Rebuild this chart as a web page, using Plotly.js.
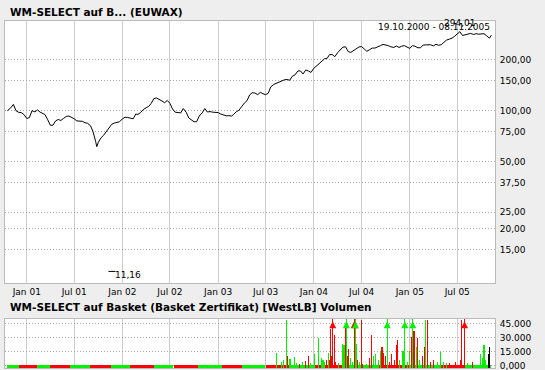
<!DOCTYPE html>
<html><head><meta charset="utf-8">
<script src="https://cdn.plot.ly/plotly-3.0.1.min.js"></script>
<style>html,body{margin:0;padding:0;background:#eeeeee;}#chart{width:545px;height:370px;}</style>
</head><body><div id="chart"></div>
<script>
// ---- price series (EUWAX close) ----
const priceDates = [
'2000-10-19','2000-11-01','2000-11-11','2000-11-21','2000-12-01','2000-12-11','2000-12-21',
'2001-01-01','2001-01-11','2001-01-21','2001-02-01','2001-02-11','2001-02-21','2001-03-01','2001-03-11','2001-03-21',
'2001-04-01','2001-04-11','2001-04-21','2001-05-01','2001-05-11','2001-05-21','2001-06-01','2001-06-11','2001-06-21',
'2001-07-01','2001-07-11','2001-07-21','2001-08-01','2001-08-11','2001-08-21','2001-09-01','2001-09-11','2001-09-21','2001-09-25',
'2001-10-01','2001-10-11','2001-10-21','2001-11-01','2001-11-11','2001-11-21','2001-12-01','2001-12-11','2001-12-21',
'2002-01-01','2002-01-11','2002-01-21','2002-02-01','2002-02-11','2002-02-21','2002-03-01','2002-03-11','2002-03-21',
'2002-04-01','2002-04-11','2002-04-21','2002-05-01','2002-05-11','2002-05-21','2002-06-01','2002-06-11','2002-06-21',
'2002-07-01','2002-07-11','2002-07-21','2002-08-01','2002-08-11','2002-08-21','2002-09-01','2002-09-11','2002-09-21',
'2002-10-01','2002-10-11','2002-10-21','2002-11-01','2002-11-11','2002-11-21','2002-12-01','2002-12-11','2002-12-21',
'2003-01-01','2003-01-11','2003-01-21','2003-02-01','2003-02-11','2003-02-21','2003-03-01','2003-03-11','2003-03-21',
'2003-04-01','2003-04-11','2003-04-21','2003-05-01','2003-05-11','2003-05-21','2003-06-01','2003-06-11','2003-06-21',
'2003-07-01','2003-07-11','2003-07-21','2003-08-01','2003-08-11','2003-08-21','2003-09-01','2003-09-11','2003-09-21',
'2003-10-01','2003-10-11','2003-10-21','2003-11-01','2003-11-11','2003-11-21','2003-12-01','2003-12-11','2003-12-21',
'2004-01-01','2004-01-11','2004-01-21','2004-02-01','2004-02-11','2004-02-21','2004-03-01','2004-03-11','2004-03-21',
'2004-04-01','2004-04-11','2004-04-21','2004-05-01','2004-05-11','2004-05-21','2004-06-01','2004-06-11','2004-06-21',
'2004-07-01','2004-07-11','2004-07-21','2004-08-01','2004-08-11','2004-08-21','2004-09-01','2004-09-11','2004-09-21',
'2004-10-01','2004-10-11','2004-10-21','2004-11-01','2004-11-11','2004-11-21','2004-12-01','2004-12-11','2004-12-21',
'2005-01-01','2005-01-11','2005-01-21','2005-02-01','2005-02-11','2005-02-21','2005-03-01','2005-03-11','2005-03-21',
'2005-04-01','2005-04-11','2005-04-21','2005-05-01','2005-05-11','2005-05-21','2005-06-01','2005-06-11','2005-06-21',
'2005-07-01','2005-07-11','2005-07-21','2005-08-01','2005-08-11','2005-08-21','2005-09-01','2005-09-11','2005-09-21',
'2005-10-01','2005-10-11','2005-10-21','2005-11-01','2005-11-08'];
const priceValues = [
100,104,109,100,97.8,97.5,95,
90,91,100,98.5,101,98,97,95,89,
82,82,87,88.7,87.5,90,92.5,93,91.4,
89.5,87,86.5,86.5,84.9,84.2,81.5,75,65.5,61.2,
65,69,71.5,75,79.5,83,84.5,85,86,
89.5,91.4,91.2,90.5,89.5,95.6,95,97.5,101.5,
104,106,110.6,118,119,117,114,111.5,115,
110.5,102.5,98,97.5,97,103,98,90.5,88,
86,86,93,97,103,98.2,98.8,98,97.6,
97.5,95.5,94,93.3,93.4,93,95,98.5,100.5,
106,111,114.6,124,127.8,127.3,124.5,128.5,126,
124.5,127,138.5,143,145.3,147,150,152.5,153,
151.5,160,163,172,172,165,174.3,172,168.5,
178.4,184,190,198,203,204.5,215,215,209,
221,230,238,239,224,221.5,228,234,238.5,
240,233,225,230,235,235,238,243,247,
245.5,243,239,237,241.6,237,241,243,238.5,
234,243,241,236,236,245,245,246,246,
242,247.5,244,246,254,262,265.5,269,276,
285,294.01,279,282,284,287,283,286,284,
285,286,278,269,280];
const maxDate = '2005-07-11', maxValue = 294.01, maxLabel = '294,01';
const minDate = '2001-11-22', minValue = 11.16, minLabel = '11,16';
const rangeText = '19.10.2000 - 08.11.2005';

// ---- volume (large individual days) ----
const volDates = ['2003-08-13','2003-09-01','2003-09-09','2003-09-19','2003-09-23','2003-10-02','2003-10-19','2003-10-28','2003-11-07','2003-11-17',
'2003-12-01','2003-12-10','2003-12-18','2004-01-03','2004-01-20','2004-01-29','2004-02-05','2004-02-12','2004-02-18','2004-02-25',
'2004-02-29','2004-03-05','2004-03-09','2004-03-13','2004-03-18','2004-03-22','2004-04-05','2004-04-18','2004-04-25','2004-04-29',
'2004-05-04','2004-05-08','2004-05-14','2004-05-21','2004-05-28','2004-06-03','2004-06-08','2004-06-13','2004-06-16','2004-06-23',
'2004-06-30','2004-07-06','2004-07-20','2004-08-02','2004-08-08','2004-08-15','2004-08-22','2004-09-02','2004-09-11','2004-09-17',
'2004-09-24','2004-10-01','2004-10-07','2004-10-14','2004-10-25','2004-11-03','2004-11-10','2004-11-16','2004-11-23','2004-12-06',
'2004-12-13','2004-12-22','2004-12-30','2005-01-06','2005-01-12','2005-01-17','2005-01-25','2005-02-01','2005-02-08','2005-02-17',
'2005-02-26','2005-03-02','2005-03-11','2005-03-22','2005-04-02','2005-04-15','2005-04-28','2005-05-08','2005-05-21','2005-06-03',
'2005-06-23','2005-07-13','2005-07-19','2005-07-29','2005-08-08','2005-08-28','2005-09-28','2005-10-04','2005-10-11','2005-10-17',
'2005-10-27','2005-11-02'];
const volValues = [14200,4600,6500,49500,11000,7300,9600,2700,1900,4600,
5000,11000,2700,12300,30400,8500,6500,4600,5800,14200,
6500,39200,10400,60000,33500,4600,2700,23800,21900,44200,
60000,10400,18000,8500,4600,60000,60000,23800,6500,4600,
49500,1500,1900,8500,33500,10400,12300,6500,16000,20000,
14200,10400,60000,4600,12300,6500,22700,27700,6500,16000,
60000,4600,16000,31500,60000,37300,20000,29600,6500,10400,
20000,49500,49500,4600,6500,4600,15000,4600,2700,2700,
4600,6500,49500,60000,2700,4600,12300,8500,22700,6500,
12300,20000];
const volUp = 'ggggrgggrgrrggggggrgrrrrrrgggrgrrggrggrgrrgrrggggrrrgrrrrrgggggrgrgrgrrgrrrggggrrrrrgrgggg';
// baseline strip of small daily volumes: segment start, end, direction
const stripStart = ['2000-10-19','2000-12-01','2001-02-10','2001-04-01','2001-06-15','2001-09-01','2001-11-20','2002-02-01','2002-05-01','2002-07-15','2002-10-15','2003-01-15','2003-04-01','2003-07-01','2003-10-01','2004-01-01','2004-05-01','2004-09-01','2005-01-01','2005-05-01','2005-08-01'];
const stripEnd   = ['2000-12-01','2001-02-10','2001-04-01','2001-06-15','2001-09-01','2001-11-20','2002-02-01','2002-05-01','2002-07-15','2002-10-15','2003-01-15','2003-04-01','2003-07-01','2003-10-01','2004-01-01','2004-05-01','2004-09-01','2005-01-01','2005-05-01','2005-08-01','2005-11-08'];
const stripUp    = 'grgrgrgrgrgrgrgrgrgrg';
const stripValue = 600;

const xTickVals = ['2001-01-01','2001-07-01','2002-01-01','2002-07-01','2003-01-01','2003-07-01','2004-01-01','2004-07-01','2005-01-01','2005-07-01'];
const xTickText = ['Jan 01','Jul 01','Jan 02','Jul 02','Jan 03','Jul 03','Jan 04','Jul 04','Jan 05','Jul 05'];
const yTickVals = [15,20,25,37.5,50,75,100,150,200];
const vTickVals = [0,15000,30000,45000];
const vTickText = ['0,000','15.000','30.000','45.000'];

const RED = '#ff0000', GREEN = '#00f000';
const DAY = 86400000;
const vColors = volUp.split('').map(c => c === 'g' ? GREEN : RED);
const sMid = stripStart.map((s,i) => new Date((Date.parse(s)+Date.parse(stripEnd[i]))/2).toISOString().slice(0,10));
const sW = stripStart.map((s,i) => Date.parse(stripEnd[i]) - Date.parse(s));
const VBASE = -2300;
const vTopCap = 49800;
const offDates = volDates.filter((d,i) => volValues[i] > vTopCap);
const offCols = vColors.filter((c,i) => volValues[i] > vTopCap);

const FONT = 'DejaVu Sans, Verdana, sans-serif';
const traces = [
  {x: priceDates, y: priceValues, type: 'scatter', mode: 'lines', line: {color: '#000', width: 1}, xaxis: 'x', yaxis: 'y', hoverinfo: 'skip'},
  {x: [minDate], y: [minValue], type: 'scatter', mode: 'markers',
   marker: {symbol: 'line-ew-open', size: 5, color: '#000', line: {width: 1, color: '#000'}}, xaxis: 'x', yaxis: 'y'},
  {x: sMid, y: stripUp.split('').map(() => stripValue - VBASE), base: VBASE, width: sW, type: 'bar',
   marker: {color: stripUp.split('').map(c => c === 'g' ? GREEN : RED), line: {width: 0}}, xaxis: 'x2', yaxis: 'y2'},
  {x: volDates, y: volValues.map(v => v - VBASE), base: VBASE, width: 4*DAY, type: 'bar',
   marker: {color: vColors, line: {width: 0}}, xaxis: 'x2', yaxis: 'y2'},
  {x: offDates, y: offDates.map(() => 47800), type: 'scatter', mode: 'markers',
   marker: {symbol: 'arrow-up', size: 7, color: offCols}, xaxis: 'x2', yaxis: 'y2', cliponaxis: false}
];

const axX = {type: 'date', range: ['2000-10-10','2005-11-22'], showgrid: true, gridcolor: '#cccccc', gridwidth: 1,
  tickvals: xTickVals, zeroline: false, showline: true, linecolor: '#bbbbbb', mirror: true, ticks: '', fixedrange: true};
const yGrid = {showgrid: true, gridcolor: '#aaaaaa', griddash: '1px,2px', gridwidth: 1, zeroline: false, showline: true, linecolor: '#bbbbbb', mirror: true,
  ticks: 'outside', ticklen: 2, tickcolor: 'rgba(0,0,0,0)', ticklabeloverflow: 'allow', tickfont: {family: FONT, size: 9, color: '#000'}};
const layout = {
  width: 545, height: 370, paper_bgcolor: '#eeeeee', plot_bgcolor: '#ffffff', showlegend: false, separators: ',.',
  margin: {l: 5, r: 50, t: 21, b: 2, pad: 0}, bargap: 0, barmode: 'overlay',
  font: {family: FONT, size: 9, color: '#000'},
  xaxis: Object.assign({}, axX, {domain: [0,1], anchor: 'y', ticktext: xTickText, showticklabels: true, tickfont: {family: FONT, size: 9, color: '#000'}}),
  xaxis2: Object.assign({}, axX, {domain: [0,1], anchor: 'y2', showticklabels: false, matches: 'x'}),
  yaxis: Object.assign({}, yGrid, {type: 'log', domain: [0.245, 1], range: [Math.log10(9.53), Math.log10(340)], side: 'right', tickvals: yTickVals, tickformat: '.2f'}),
  yaxis2: Object.assign({}, yGrid, {domain: [0, 0.1412], range: [VBASE, 50300], side: 'right', tickvals: vTickVals, ticktext: vTickText}),
  annotations: [
    {text: '<b>WM-SELECT auf B... (EUWAX)</b>', xref: 'paper', yref: 'paper', x: 0.006, y: 1.026, xanchor: 'left', yanchor: 'middle', showarrow: false,
     font: {family: FONT, size: 10.5, color: '#000'}},
    {text: '<b>WM-SELECT auf Basket (Basket Zertifikat) [WestLB] Volumen</b>', xref: 'paper', yref: 'paper', x: 0.006, y: 0.1758, xanchor: 'left', yanchor: 'middle', showarrow: false,
     font: {family: FONT, size: 10.5, color: '#000'}},
    {text: rangeText, xref: 'paper', yref: 'paper', x: 0.994, y: 0.9827, xanchor: 'right', yanchor: 'middle', showarrow: false,
     font: {family: FONT, size: 9, color: '#000'}},
    {text: maxLabel, xref: 'x', yref: 'y', x: maxDate, y: Math.log10(maxValue), xanchor: 'center', yanchor: 'middle', yshift: 9, showarrow: false,
     font: {family: FONT, size: 9, color: '#000'}},
    {text: minLabel, xref: 'x', yref: 'y', x: minDate, y: Math.log10(minValue), xanchor: 'left', yanchor: 'middle', xshift: 1, yshift: -4, showarrow: false,
     font: {family: FONT, size: 9, color: '#000'}}
  ]
};
Plotly.newPlot('chart', traces, layout, {staticPlot: true, displayModeBar: false});
</script></body></html>
